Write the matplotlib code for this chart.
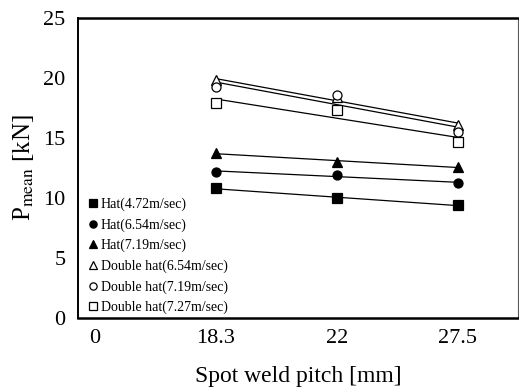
import matplotlib
matplotlib.use('Agg')
import matplotlib.pyplot as plt
import numpy as np

plt.rcParams['font.family'] = ['Liberation Serif', 'DejaVu Serif']
plt.rcParams['mathtext.fontset'] = 'stix'

# categories on the x axis (drawn at equal spacing)
tick_labels = ['0', '18.3', '22', '27.5']
pitch_idx = [1, 2, 3]

# mean crush load [kN] per series, read at 18.3 / 22 / 27.5 mm
hat_472 = [10.8, 10.0, 9.4]
hat_654 = [12.2, 11.9, 11.25]
hat_719 = [13.75, 13.0, 12.6]
dhat_654 = [19.8, 18.4, 16.1]
dhat_719 = [19.25, 18.6, 15.5]
dhat_727 = [17.9, 17.35, 14.7]

series = [
    ('Hat(4.72m/sec)', hat_472, 's', 'black'),
    ('Hat(6.54m/sec)', hat_654, 'o', 'black'),
    ('Hat(7.19m/sec)', hat_719, '^', 'black'),
    ('Double hat(6.54m/sec)', dhat_654, '^', 'white'),
    ('Double hat(7.19m/sec)', dhat_719, 'o', 'white'),
    ('Double hat(7.27m/sec)', dhat_727, 's', 'white'),
]

fig = plt.figure(figsize=(5.19, 3.9), dpi=100)
ax = fig.add_axes([78 / 519, 1 - 318 / 390, 440 / 519, 300 / 390])

x = np.array(pitch_idx, dtype=float)
handles = []
for label, vals, mk, fc in series:
    # straight trend line through the three points
    k, b = np.polyfit(x, vals, 1)
    ax.plot(x, k * x + b, color='black', lw=0.9, zorder=2)
    h, = ax.plot(x, vals, linestyle='none', marker=mk, markersize=6.5,
                 markerfacecolor=fc, markeredgecolor='black', markeredgewidth=0.9,
                 label=label, zorder=3)
    handles.append(h)

ax.set_xlim(-0.14, 3.5)
ax.set_ylim(0, 25)
ax.set_xticks(range(len(tick_labels)))
ax.set_xticklabels(tick_labels)
ax.set_yticks([0, 5, 10, 15, 20, 25])
ax.tick_params(axis='both', length=0, labelsize=16)
ax.tick_params(axis='y', pad=9)
ax.tick_params(axis='x', pad=8)

for side in ['top', 'bottom']:
    ax.spines[side].set_linewidth(1.8)
ax.spines['left'].set_linewidth(1.4)
ax.spines['right'].set_linewidth(0.8)
ax.spines['right'].set_color('0.35')

ax.set_xlabel('Spot weld pitch [mm]', fontsize=17, labelpad=13)
ax.set_ylabel(r'P$_{\mathrm{mean}}$ [kN]', fontsize=18, labelpad=5)

leg = ax.legend(handles=handles, loc='lower left', bbox_to_anchor=(0.0, -0.025),
                frameon=False, fontsize=10, handlelength=0.5, handletextpad=0.35,
                labelspacing=0.52, borderpad=0.3, markerscale=0.8)

fig.savefig('out.png', dpi=100)
